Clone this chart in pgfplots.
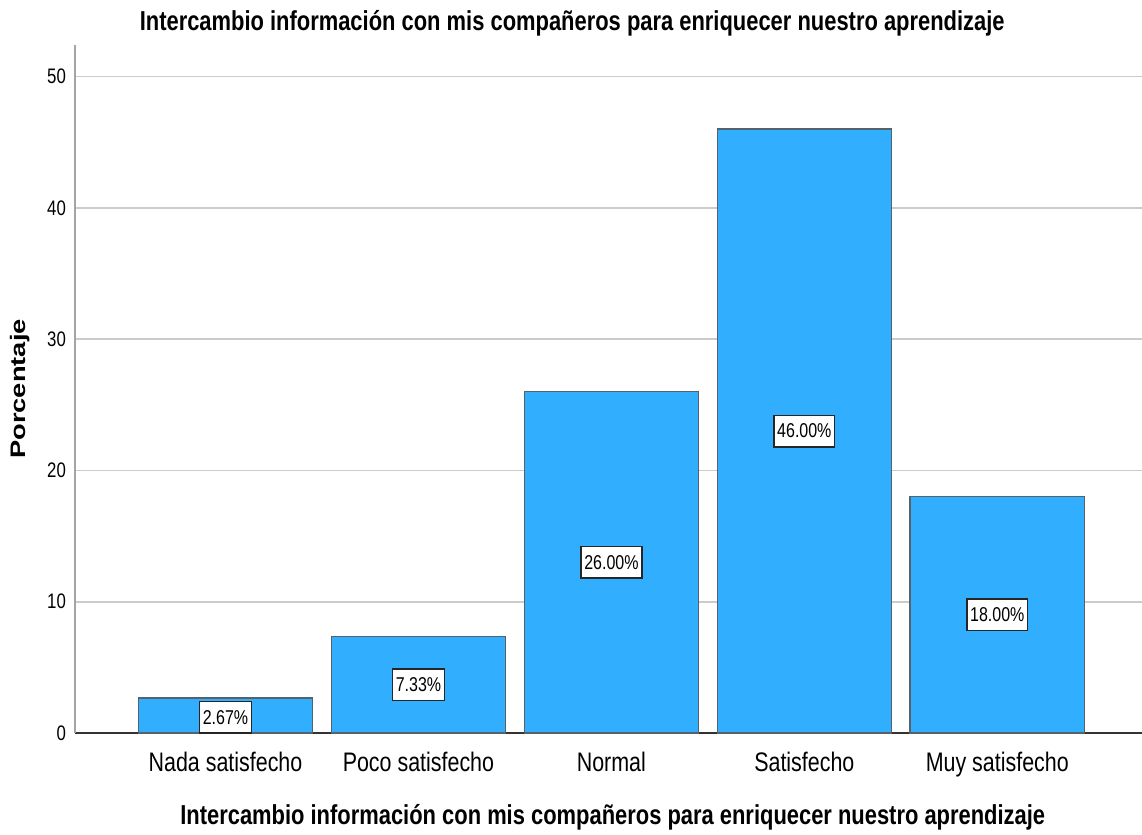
\documentclass[border=0pt]{standalone}
\usepackage{fontspec}
\setmainfont{Liberation Sans}[FakeStretch=0.8]
\newfontfamily\widesans{Liberation Sans}
\usepackage{pgfplots}
\pgfplotsset{compat=1.18}
\usetikzlibrary{calc}

\definecolor{barBlue}{HTML}{31AEFE}
\definecolor{barEdge}{HTML}{56626A}
\definecolor{gridGray}{HTML}{CBCBCB}
\definecolor{yAxisGray}{HTML}{A4A4A4}

\begin{document}
\begin{tikzpicture}
\begin{axis}[
	scale only axis,
	width=533.5pt,
	height=344pt,
	xmin=-0.78, xmax=4.75,
	ymin=0, ymax=52.4,
	xtick={0,1,2,3,4},
	xticklabels={Nada satisfecho,Poco satisfecho,Normal,Satisfecho,Muy satisfecho},
	ytick={0,10,20,30,40,50},
	major tick length=0pt,
	axis lines*=left,
	x axis line style={draw=black!80,line width=0.8pt},
	y axis line style={draw=yAxisGray,line width=1pt},
	ymajorgrids,
	major grid style={draw=gridGray,line width=0.9pt},
	/pgf/number format/assume math mode=true,
	xticklabel style={font=\fontsize{13.4}{15}\selectfont,yshift=-6pt},
	yticklabel style={font=\fontsize{10.5}{12}\selectfont,xshift=-1pt},
	title={Intercambio información con mis compañeros para enriquecer nuestro aprendizaje},
	title style={font=\fontsize{13.7}{16}\selectfont\bfseries,
		at={(axis description cs:0.466,1)},anchor=center,yshift=5pt},
	xlabel={Intercambio información con mis compañeros para enriquecer nuestro aprendizaje},
	xlabel style={font=\fontsize{13.7}{16}\selectfont\bfseries,
		at={(axis description cs:0.504,0)},anchor=center,yshift=-42pt},
	ylabel={\scalebox{1.3}[1]{\widesans\bfseries Porcentaje}},
	ylabel style={font=\fontsize{10.5}{12}\selectfont,
		at={(axis description cs:-0.0515,0.5)},anchor=center},
]
\addplot[ybar,bar width=0.904,fill=barBlue,draw=barEdge,line width=0.6pt]
	coordinates {(0,2.67) (1,7.33) (2,26.00) (3,46.00) (4,18.00)};
% value labels, half way up each bar
\addplot[only marks,mark=none,point meta=explicit symbolic,
	nodes near coords,nodes near coords align={center},
	every node near coord/.append style={font=\fontsize{10}{11}\selectfont,
		fill=white,draw=black!85,line width=0.8pt,inner xsep=1.6pt,inner ysep=4.3pt,
		anchor=center}]
	coordinates {(0,1.2)[2.67\%] (1,3.665)[7.33\%] (2,13.00)[26.00\%]
		(3,23.00)[46.00\%] (4,9.00)[18.00\%]};
\end{axis}
\pgfresetboundingbox
\path ($(current axis.south west)+(-37.5pt,-50.5pt)$) rectangle ($(current axis.north east)+(0pt,22.5pt)$);
\end{tikzpicture}
\end{document}
